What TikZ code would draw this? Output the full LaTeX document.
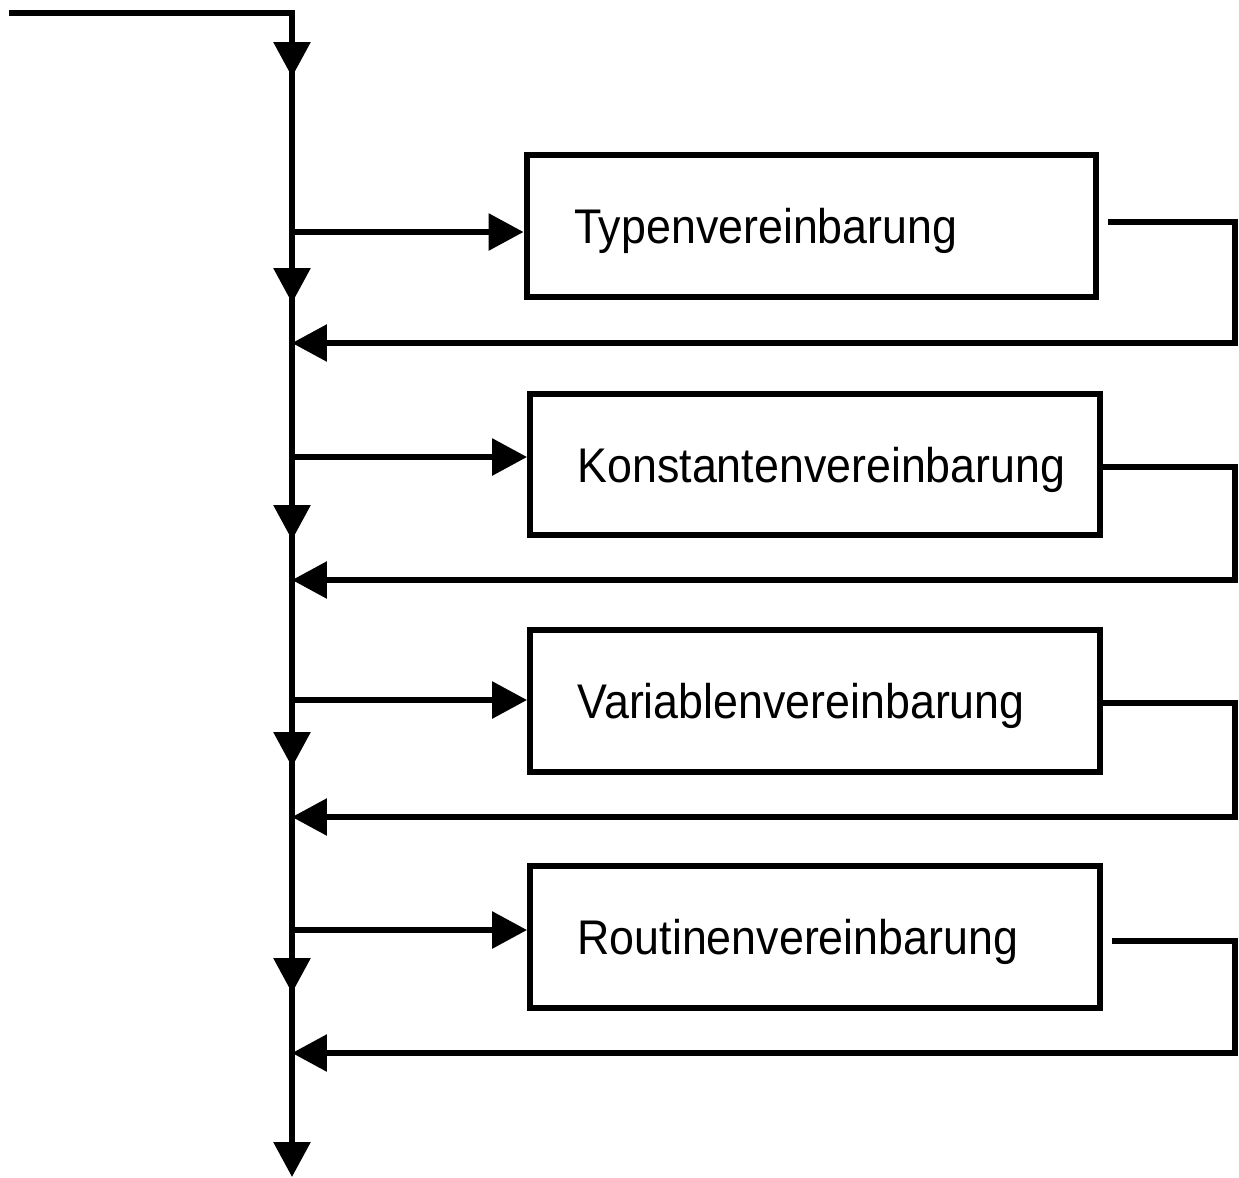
\documentclass[tikz,border=0pt]{standalone}
\usepackage{fontspec}
\newfontfamily\declfont[FakeStretch=0.92]{Liberation Sans}
\usetikzlibrary{arrows.meta,calc}
\hyphenpenalty=10000
\hbadness=10000
\hfuzz=1cm

\begin{document}
\begin{tikzpicture}[x=0.02cm,y=-0.02cm,line width=0.12cm,
    >={Triangle[length=0.7cm,width=0.72cm]},
    decl/.style={draw,minimum height=2.83cm,text width=9.5cm,align=left,
      inner xsep=0.95cm,text height=0.7cm,text depth=0pt,
      font={\declfont\fontsize{27.7}{33}\selectfont}}]
  \useasboundingbox (0,0) rectangle (1239,1177);
  \node[decl] (typ) at (811.5,226) {Typenvereinbarung};
  \node[decl] (kon) at (815,464.5) {Konstantenvereinbarung};
  \node[decl] (var) at (815,701) {Variablenvereinbarung};
  \node[decl] (rou) at (815,937) {Routinenvereinbarung};
  \coordinate (in) at (9,13);
  \coordinate (d1) at (292,77);
  \coordinate (d2) at (292,303);
  \coordinate (d3) at (292,540);
  \coordinate (d4) at (292,767);
  \coordinate (d5) at (292,993);
  \coordinate (out) at (292,1177);
  \coordinate (e1) at (292,232);
  \coordinate (e2) at (292,457);
  \coordinate (e3) at (292,700);
  \coordinate (e4) at (292,930);
  \coordinate (f1) at (292,343);
  \coordinate (f2) at (292,580);
  \coordinate (f3) at (292,817);
  \coordinate (f4) at (292,1053);
  \coordinate (r1) at (1235,343);
  \coordinate (r2) at (1235,580);
  \coordinate (r3) at (1235,817);
  \coordinate (r4) at (1235,1053);
  \draw (in) -| (d5);
  \draw[->] (in) -| (d1);
  \path[->]
    (d1) edge (d2)
    (d2) edge (d3)
    (d3) edge (d4)
    (d4) edge (d5)
    (d5) edge (out)
    (e1) edge (e1 -| typ.west)
    (e2) edge (e2 -| kon.west)
    (e3) edge (e3 -| var.west)
    (e4) edge (e4 -| rou.west);
  \draw[->] ([shift={(9,-4)}]typ.east) -| (r1) -- (f1);
  \draw[->] ([shift={(0,2.5)}]kon.east) -| (r2) -- (f2);
  \draw[->] ([shift={(0,2)}]var.east) -| (r3) -- (f3);
  \draw[->] ([shift={(9,4)}]rou.east) -| (r4) -- (f4);
\end{tikzpicture}
\end{document}
